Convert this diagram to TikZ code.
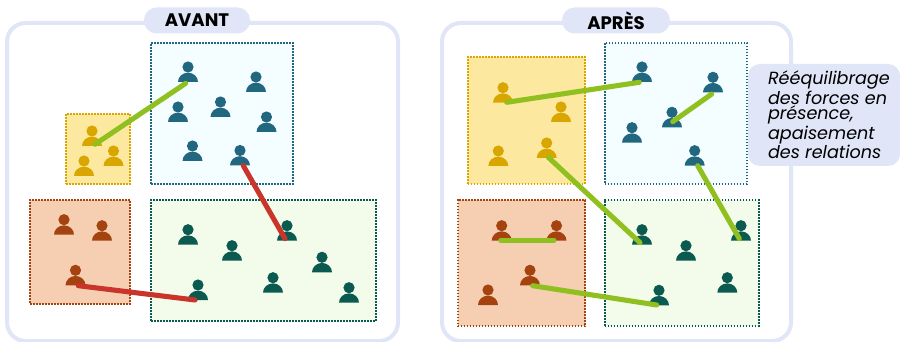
\documentclass[tikz,border=0pt]{standalone}
\usepackage{fontspec}
\setmainfont{Poppins}
\usepackage{xcolor}
\usetikzlibrary{fit}
\definecolor{panelBlue}{HTML}{E0E5F7}
\definecolor{tealDark}{HTML}{20677F}
\definecolor{tealPale}{HTML}{F4FDFF}
\definecolor{yellowDark}{HTML}{D9A600}
\definecolor{yellowPale}{HTML}{FDE8A0}
\definecolor{brownDark}{HTML}{A44310}
\definecolor{brownPale}{HTML}{F6CFB3}
\definecolor{greenDark}{HTML}{0A5A50}
\definecolor{greenPale}{HTML}{F3FCEA}
\definecolor{linkGood}{HTML}{90BF20}
\definecolor{linkBad}{HTML}{C9352A}

\newcommand{\person}[4]{%
  \coordinate (#1) at (#3,#4);
  \pic[#2] at (#1) {personpic};
}

\begin{document}
\begin{tikzpicture}[
    x=0.75pt, y=-0.75pt,
    panel/.style={rectangle, rounded corners=14pt, draw=panelBlue, line width=3pt, inner sep=0pt},
    pill/.style={rectangle, rounded corners=9.5pt, fill=panelBlue, minimum width=#1, minimum height=19.5pt, inner sep=0pt, font=\fontsize{13.6}{13.6}\selectfont\bfseries},
    groupbox/.style={rectangle, draw=#1Dark, fill=#1Pale, line width=1.5pt, dash pattern=on 1.25pt off 1pt, inner sep=0pt},
    callout/.style={rectangle, rounded corners=9pt, fill=panelBlue, inner sep=0pt},
    callouttext/.style={anchor=west, inner sep=0pt, align=left, font=\fontsize{13.2}{11.6}\selectfont\itshape},
    link/.style={line width=3.8pt, line cap=round, #1},
    personpic/.pic={
        \fill (0,-15) circle[radius=4.2pt];
        \fill (-10,0) arc[start angle=180, end angle=0, x radius=7.5pt, y radius=7pt] -- cycle;
    }
]
\useasboundingbox (0,0) rectangle (900,342);

% AVANT
\node[panel, fit={(7,23)(398,341)}] (avant) {};
\node[pill=79.5pt] (avantTitle) at (197,20.5) {AVANT};

\node[groupbox=teal, fit={(151,43)(293,184)}] (avantTeal) {};
\node[groupbox=yellow, fit={(66,114)(130,184)}] (avantYellow) {};
\node[groupbox=brown, fit={(30,200)(130,304)}] (avantBrown) {};
\node[groupbox=green, fit={(151,200)(376,321)}] (avantGreen) {};

\person{at1}{tealDark}{188}{82}
\person{at2}{tealDark}{256}{92}
\person{at3}{tealDark}{178}{122}
\person{at4}{tealDark}{220.5}{117}
\person{at5}{tealDark}{266.5}{132}
\person{at6}{tealDark}{192.5}{161}
\person{at7}{tealDark}{240}{165.5}

\person{ay1}{yellowDark}{92}{146}
\person{ay2}{yellowDark}{113.5}{166}
\person{ay3}{yellowDark}{84}{176}

\person{ab1}{brownDark}{64}{234.7}
\person{ab2}{brownDark}{102}{240.7}
\person{ab3}{brownDark}{75.5}{285.3}

\person{ag1}{greenDark}{188}{244.7}
\person{ag2}{greenDark}{232}{260.7}
\person{ag3}{greenDark}{287}{240.7}
\person{ag4}{greenDark}{322}{272.3}
\person{ag5}{greenDark}{273}{292.7}
\person{ag6}{greenDark}{349}{302.7}
\person{ag7}{greenDark}{198}{300}

\draw[link=linkGood] ([shift={(3,-1.7)}]ay1) -- ([shift={(-2.3,1.3)}]at1);
\draw[link=linkBad] ([shift={(3.3,0.2)}]at7) -- ([shift={(-2,-2)}]ag3);
\draw[link=linkBad] ([shift={(2.8,0.4)}]ab3) -- ([shift={(-3,0)}]ag7);

% APRES
\node[panel, fit={(442,23)(791,341)}] (apres) {};
\node[pill=81pt] (apresTitle) at (616,20.5) {APRÈS};

\node[callout, fit={(748,64)(900,166)}] (note) {};
\node[callouttext] (noteText) at ([xshift=15pt]note.west) {Rééquilibrage\\des forces en\\présence,\\apaisement\\des relations};

\node[groupbox=yellow, fit={(467.5,57)(584.5,184)}] (apresYellow) {};
\node[groupbox=teal, fit={(604.7,43)(747,184)}] (apresTeal) {};
\node[groupbox=brown, fit={(457.7,200)(585.3,326)}] (apresBrown) {};
\node[groupbox=green, fit={(604.7,200)(758.5,326)}] (apresGreen) {};

\person{pt1}{tealDark}{642}{82}
\person{pt2}{tealDark}{713}{92.3}
\person{pt3}{tealDark}{672}{127.3}
\person{pt4}{tealDark}{632}{142.7}
\person{pt5}{tealDark}{694.7}{165.7}

\person{py1}{yellowDark}{503}{102.7}
\person{py2}{yellowDark}{561}{122}
\person{py3}{yellowDark}{498.3}{166}
\person{py4}{yellowDark}{546.7}{158}

\person{pb1}{brownDark}{501.7}{240.7}
\person{pb2}{brownDark}{556.5}{240.7}
\person{pb3}{brownDark}{530}{285.3}
\person{pb4}{brownDark}{488}{305}

\person{pg1}{greenDark}{642}{244.7}
\person{pg2}{greenDark}{686}{260.7}
\person{pg3}{greenDark}{741}{240.7}
\person{pg4}{greenDark}{727.3}{292.7}
\person{pg5}{greenDark}{659}{305.3}

\draw[link=linkGood] ([shift={(3.7,-0.4)}]py1) -- ([shift={(-2.7,0.3)}]pt1);
\draw[link=linkGood] ([shift={(0.7,-5.6)}]pt3) -- ([shift={(-1.3,1.7)}]pt2);
\draw[link=linkGood] ([shift={(1.6,-0.7)}]py4) -- ([shift={(-2,-2)}]pg1);
\draw[link=linkGood] ([shift={(3,0)}]pt5) -- ([shift={(-1.7,-2)}]pg3);
\draw[link=linkGood] ([shift={(-1,-0.4)}]pb1) -- ([shift={(-2.5,-0.4)}]pb2);
\draw[link=linkGood] ([shift={(2.7,0.4)}]pb3) -- ([shift={(-2.3,-0.3)}]pg5);

\end{tikzpicture}
\end{document}
